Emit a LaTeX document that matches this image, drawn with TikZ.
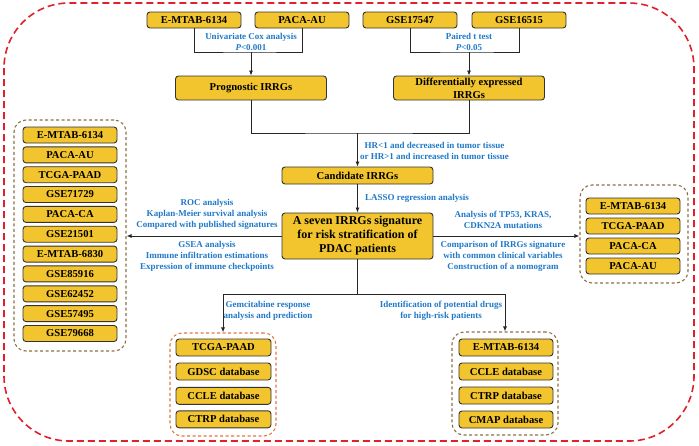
\documentclass[tikz,border=0pt]{standalone}
\usepackage{fontspec}
\setmainfont{Liberation Serif}
\usetikzlibrary{arrows.meta}
\definecolor{boxgold}{HTML}{F2C42E}
\definecolor{txtblue}{HTML}{1F78C8}
\definecolor{outred}{HTML}{E0202A}
\definecolor{grpbrown}{HTML}{8C7045}
\definecolor{grporange}{HTML}{E5773F}
\tikzstyle{bS}=[rectangle,rounded corners=3pt,draw=black!80,line width=0.9pt,fill=boxgold,minimum width=94pt,minimum height=16pt,inner sep=0pt,font=\bfseries\fontsize{10.6}{13}\selectfont,align=center]
\tikzstyle{bW}=[bS,minimum width=151pt,minimum height=24pt]
\tikzstyle{lS}=[text=txtblue,font=\bfseries\fontsize{9}{11}\selectfont,align=center,inner sep=0pt]
\tikzstyle{fS}=[rectangle,rounded corners=12pt,draw=grpbrown,line width=1.1pt,dash pattern=on 3pt off 2.5pt,inner sep=0pt]
\tikzstyle{cS}=[draw=black!85,line width=0.8pt]
\tikzstyle{aS}=[cS,-{Latex[length=5pt,width=4pt]}]

\begin{document}
\begin{tikzpicture}[x=1pt,y=-1pt]
    \useasboundingbox (0,0) rectangle (699,445);
    % outer frame
    \draw[outred,line width=1.6pt,dash pattern=on 7pt off 4pt,rounded corners=65pt] (4,3) rectangle (694,441);

    % input data sets
    \draw (194,20) node[bS] (d0) {E-MTAB-6134};
    \draw (302,20) node[bS] (d1) {PACA-AU};
    \draw (410,20) node[bS] (d2) {GSE17547};
    \draw (519,20) node[bS] (d3) {GSE16515};

    % main flow
    \draw (251,88) node[bW] (prog) {Prognostic IRRGs};
    \draw (469,88) node[bW] (deg) {Differentially expressed\\IRRGs};
    \draw (357.5,175.5) node[bW,minimum height=17pt] (cand) {Candidate IRRGs};
    \draw (357.5,236) node[bW,minimum height=46pt,font=\bfseries\fontsize{12}{14}\selectfont] (sig) {A seven IRRGs signature\\for risk stratification of\\PDAC patients};

    % validation cohorts (left)
    \draw (70,235.5) node[fS,minimum width=112pt,minimum height=231pt] (fL) {};
    \draw (70,135) node[bS] (l0) {E-MTAB-6134};
    \draw (70,154.8) node[bS] (l1) {PACA-AU};
    \draw (70,174.7) node[bS] (l2) {TCGA-PAAD};
    \draw (70,194.5) node[bS] (l3) {GSE71729};
    \draw (70,214.4) node[bS] (l4) {PACA-CA};
    \draw (70,234.2) node[bS] (l5) {GSE21501};
    \draw (70,254.1) node[bS] (l6) {E-MTAB-6830};
    \draw (70,273.9) node[bS] (l7) {GSE85916};
    \draw (70,293.8) node[bS] (l8) {GSE62452};
    \draw (70,313.6) node[bS] (l9) {GSE57495};
    \draw (70,333.5) node[bS] (l10) {GSE79668};

    % mutation / clinical cohorts (right)
    \draw (634,234) node[fS,minimum width=108pt,minimum height=98pt] (fR) {};
    \draw (633,206) node[bS] (r0) {E-MTAB-6134};
    \draw (633,226) node[bS] (r1) {TCGA-PAAD};
    \draw (633,246) node[bS] (r2) {PACA-CA};
    \draw (633,266) node[bS] (r3) {PACA-AU};

    % gemcitabine (bottom left)
    \draw (223,384.5) node[fS,draw=grporange,minimum width=106pt,minimum height=103pt] (fG) {};
    \draw (223.5,347.5) node[bS,minimum height=17pt,minimum width=95pt] (g0) {TCGA-PAAD};
    \draw (223.5,371.5) node[bS,minimum height=17pt,minimum width=95pt] (g1) {GDSC database};
    \draw (223.5,395.8) node[bS,minimum height=17pt,minimum width=95pt] (g2) {CCLE database};
    \draw (223.5,419.3) node[bS,minimum height=17pt,minimum width=95pt] (g3) {CTRP database};

    % potential drugs (bottom right)
    \draw (505,383.5) node[fS,minimum width=106pt,minimum height=103pt] (fP) {};
    \draw (506,347.5) node[bS,minimum height=17pt] (p0) {E-MTAB-6134};
    \draw (506,371.5) node[bS,minimum height=17pt] (p1) {CCLE database};
    \draw (506,395.5) node[bS,minimum height=17pt] (p2) {CTRP database};
    \draw (506,419.5) node[bS,minimum height=17pt] (p3) {CMAP database};

    % connectors
    \coordinate (jA) at (251,52);
    \coordinate (jB) at (469,52);
    \coordinate (jC) at (357.5,133);
    \coordinate (jD) at (357.5,294);
    \draw[cS] (d0.south) |- (jA) -| (d1.south);
    \draw[cS] (d2.south) |- (jB) -| (d3.south);
    \draw[aS] (jA) -- (prog.north);
    \draw[aS] (jB) -- (deg.north);
    \draw[cS] (prog.south) |- (jC) -| (deg.south);
    \draw[aS] (jC) -- (cand.north);
    \draw[aS] (cand.south) -- (sig.north);
    \draw[aS] (sig.west) -- (sig.west -| fL.east);
    \draw[aS] (sig.east) -- (sig.east -| fR.west);
    \draw[cS] (sig.south) -- (jD);
    \draw[aS] (jD) -| (fG.north);
    \draw[aS] (jD) -| (fP.north);

    % labels
    \draw (251,41.5) node[lS] (t0) {Univariate Cox analysis\\\textit{P}<0.001};
    \draw (469,41.5) node[lS] (t1) {Paired t test\\\textit{P}<0.05};
    \draw (434.5,150.5) node[lS] (t2) {HR<1 and decreased in tumor tissue\\or HR>1 and increased in tumor tissue};
    \draw (365,198) node[lS,anchor=west] (t3) {LASSO regression analysis};
    \draw (207,214) node[lS] (t4) {ROC analysis\\Kaplan-Meier survival analysis\\Compared with published signatures};
    \draw (207,256) node[lS] (t5) {GSEA analysis\\Immune infiltration estimations\\Expression of immune checkpoints};
    \draw (503,220) node[lS] (t6) {Analysis of TP53, KRAS,\\CDKN2A mutations};
    \draw (503,256.5) node[lS] (t7) {Comparison of IRRGs signature\\with common clinical variables\\Construction of a nomogram};
    \draw (268,310.5) node[lS] (t8) {Gemcitabine response\\analysis and prediction};
    \draw (441,310.5) node[lS] (t9) {Identification of potential drugs\\for high-risk patients};
\end{tikzpicture}
\end{document}
